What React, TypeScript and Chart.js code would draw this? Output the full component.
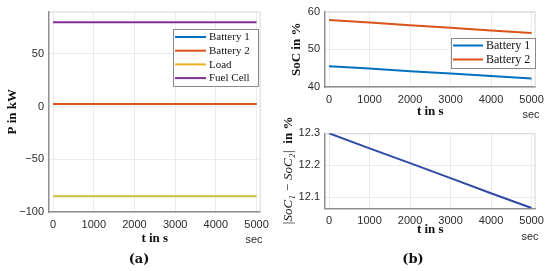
import React, { useEffect, useRef } from "react";
import { Chart, registerables } from "chart.js";

Chart.register(...registerables);

// ---------------- data ----------------
const timeS = [0, 1000, 2000, 3000, 4000, 5000];
const timeTicks = [0, 1000, 2000, 3000, 4000, 5000];

const powerBattery1 = [2.5, 2.5, 2.5, 2.5, 2.5, 2.5];
const powerBattery2 = [2.5, 2.5, 2.5, 2.5, 2.5, 2.5];
const powerLoad = [-85, -85, -85, -85, -85, -85];
const powerFuelCell = [80, 80, 80, 80, 80, 80];
const powerTicks = [-100, -50, 0, 50];

const socBattery1 = [45.5, 44.9, 44.2, 43.6, 42.9, 42.23];
const socBattery2 = [57.8, 57.1, 56.4, 55.7, 55.0, 54.3];
const socTicks = [40, 50, 60];

const socDiff = [12.3, 12.253, 12.207, 12.16, 12.113, 12.067];
const socDiffTicks = [12.1, 12.2, 12.3];

// ---------------- styling ----------------
const SANS = '"Liberation Sans", Arial, Helvetica, sans-serif';
const SERIF = '"Liberation Serif", "Times New Roman", serif';
const GRID = "#ebebeb";
const AXIS = "#8f8f8f";
const TICK = "#2b2b2b";
const BLUE = "#0072BD";
const RED = "#D95319";
const LOAD_LINE = "#c6c134";
const LOAD_LEGEND = "#EDB120";
const PURPLE = "#7E2F8E";
const DIFF_BLUE = "#2f4aa6";

Chart.defaults.font.family = SANS;

const pts = (ys: number[]) => timeS.map((t, i) => ({ x: t, y: ys[i] }));

const fmt = (v: any) => {
  const n = Number(v);
  const s = String(Math.round(Math.abs(n) * 1000) / 1000);
  return n < 0 ? "\u2212" + s : s;
};

const fixedTicks = (vals: number[]) => (scale: any) => {
  scale.ticks = vals.map((v) => ({ value: v }));
};

// ---------------- plugins ----------------
const boxLegend = {
  id: "boxLegend",
  afterDatasetsDraw(chart: any, _args: any, opts: any) {
    if (!opts || !opts.display) return;
    const ctx = chart.ctx;
    const { x, y, w, h, rowH, padTop, lineX0, lineX1, textX, font } = opts;
    ctx.save();
    ctx.fillStyle = "#ffffff";
    ctx.fillRect(x, y, w, h);
    ctx.strokeStyle = "#8a8a8a";
    ctx.lineWidth = 1;
    ctx.strokeRect(x + 0.5, y + 0.5, w, h);
    chart.data.datasets.forEach((ds: any, i: number) => {
      const cy = y + padTop + i * rowH;
      ctx.strokeStyle = ds.legendColor || ds.borderColor;
      ctx.lineWidth = 2;
      ctx.beginPath();
      ctx.moveTo(x + lineX0, cy);
      ctx.lineTo(x + lineX1, cy);
      ctx.stroke();
      ctx.fillStyle = "#111";
      ctx.font = font;
      ctx.textBaseline = "middle";
      ctx.textAlign = "left";
      ctx.fillText(ds.label, x + textX, cy + 0.5);
    });
    ctx.restore();
  },
};

const plotBox = {
  id: "plotBox",
  beforeDatasetsDraw(chart: any) {
    const { ctx, chartArea: a } = chart;
    ctx.save();
    ctx.strokeStyle = "#d6d6d6";
    ctx.lineWidth = 1;
    ctx.beginPath();
    ctx.moveTo(a.left, a.top + 0.5);
    ctx.lineTo(a.right - 0.5, a.top + 0.5);
    ctx.lineTo(a.right - 0.5, a.bottom);
    ctx.stroke();
    ctx.restore();
  },
};

const extraText = {
  id: "extraText",
  afterDraw(chart: any, _args: any, opts: any) {
    const items = (opts && opts.items) || [];
    const ctx = chart.ctx;
    const a = chart.chartArea;
    items.forEach((it: any) => {
      const parts = it.parts || [{ text: it.text, font: it.font }];
      const y = it.yMid ? (a.top + a.bottom) / 2 : it.y;
      ctx.save();
      ctx.translate(it.x, y);
      if (it.rotate) ctx.rotate(it.rotate);
      ctx.fillStyle = it.color || "#111";
      ctx.textBaseline = "middle";
      ctx.textAlign = "left";
      let total = 0;
      const widths = parts.map((p: any) => {
        ctx.font = p.font;
        const w = ctx.measureText(p.text).width;
        total += w;
        return w;
      });
      let cx = -total / 2;
      parts.forEach((p: any, i: number) => {
        ctx.font = p.font;
        ctx.fillText(p.text, cx, 0);
        cx += widths[i];
      });
      ctx.restore();
    });
  },
};

// ---------------- scale builders ----------------
function xScale(axisHeight: number, tickPad: number, titlePadBottom: number) {
  return {
    type: "linear",
    min: -100,
    max: 5100,
    afterBuildTicks: fixedTicks(timeTicks),
    afterFit: (s: any) => {
      s.height = axisHeight;
    },
    grid: { color: GRID, drawTicks: false, lineWidth: 1 },
    border: { color: AXIS, width: 1.5 },
    ticks: {
      padding: tickPad,
      font: { family: SANS, size: 11 },
      color: TICK,
      callback: fmt,
      maxRotation: 0,
      autoSkip: false,
    },
    title: {
      display: true,
      text: "t in s",
      font: { family: SERIF, size: 13, weight: "bold" },
      color: "#111",
      padding: { top: 0, bottom: titlePadBottom },
    },
  };
}

function yScale(min: number, max: number, ticks: number[], width: number, title: string | null, titlePadTop: number) {
  return {
    type: "linear",
    min,
    max,
    afterBuildTicks: fixedTicks(ticks),
    afterFit: (s: any) => {
      s.width = width;
    },
    grid: { color: GRID, drawTicks: false, lineWidth: 1 },
    border: { color: AXIS, width: 1.5 },
    ticks: {
      padding: 5,
      font: { family: SANS, size: 11 },
      color: TICK,
      callback: fmt,
      autoSkip: false,
    },
    title: {
      display: !!title,
      text: title || "",
      font: { family: SERIF, size: 13, weight: "bold" },
      color: "#111",
      padding: { top: titlePadTop, bottom: 0 },
    },
  };
}

const lineDs = (label: string, data: number[], color: string, order: number, extra: any = {}) => ({
  label,
  data: pts(data),
  borderColor: color,
  backgroundColor: color,
  borderWidth: 2,
  pointRadius: 0,
  fill: false,
  tension: 0,
  order,
  ...extra,
});

const baseOptions = (padding: any, scales: any, plugins: any) => ({
  responsive: false,
  animation: false,
  events: [],
  layout: { padding },
  scales,
  plugins: {
    legend: { display: false },
    tooltip: { enabled: false },
    ...plugins,
  },
});

// ---------------- chart configs ----------------
const configPower = () => ({
  type: "line",
  data: {
    datasets: [
      lineDs("Battery 1", powerBattery1, BLUE, 4),
      lineDs("Battery 2", powerBattery2, RED, 3),
      lineDs("Load", powerLoad, LOAD_LINE, 2, { legendColor: LOAD_LEGEND }),
      lineDs("Fuel Cell", powerFuelCell, PURPLE, 1),
    ],
  },
  options: baseOptions(
    { top: 10, right: 13, bottom: 0, left: 0 },
    {
      x: xScale(59, 6, 25),
      y: yScale(-100, 90, powerTicks, 49, "P in kW", 5),
    },
    {
      boxLegend: {
        display: true,
        x: 173,
        y: 29,
        w: 85,
        h: 57,
        padTop: 8,
        rowH: 13.7,
        lineX0: 2,
        lineX1: 33,
        textX: 36,
        font: `11px ${SERIF}`,
      },
      extraText: {
        items: [
          { text: "sec", x: 254, y: 240, font: `11px ${SANS}`, color: TICK },
          { text: "(a)", x: 139, y: 260, font: `bold 13px "DejaVu Serif", serif`, color: "#111" },
        ],
      },
    }
  ),
  plugins: [plotBox, boxLegend, extraText],
});

const configSoc = () => ({
  type: "line",
  data: {
    datasets: [lineDs("Battery 1", socBattery1, BLUE, 2), lineDs("Battery 2", socBattery2, RED, 1)],
  },
  options: baseOptions(
    { top: 10.5, right: 13, bottom: 0, left: 0 },
    {
      x: xScale(38, 6, 6),
      y: yScale(40, 60, socTicks, 50, "SoC in %", 14),
    },
    {
      boxLegend: {
        display: true,
        x: 176,
        y: 38,
        w: 84,
        h: 30,
        padTop: 7.5,
        rowH: 14,
        lineX0: 2,
        lineX1: 32,
        textX: 35,
        font: `12px ${SERIF}`,
      },
      extraText: {
        items: [{ text: "sec", x: 256, y: 115, font: `11px ${SANS}`, color: TICK }],
      },
    }
  ),
  plugins: [plotBox, boxLegend, extraText],
});

const configDiff = () => ({
  type: "line",
  data: {
    datasets: [lineDs("|SoC1 - SoC2|", socDiff, DIFF_BLUE, 1)],
  },
  options: baseOptions(
    { top: 33.3, right: 13, bottom: 0, left: 0 },
    {
      x: xScale(62.7, 6, 34),
      y: yScale(12.066, 12.3, socDiffTicks, 50, null, 0),
    },
    {
      extraText: {
        items: [
          { text: "sec", x: 255, y: 137, font: `11px ${SANS}`, color: TICK },
          { text: "(b)", x: 138, y: 160, font: `bold 13px "DejaVu Serif", serif`, color: "#111" },
          {
            x: 14,
            yMid: true,
            rotate: -Math.PI / 2,
            color: "#111",
            parts: [
              { text: "|SoC\u2081 \u2212 SoC\u2082|", font: `italic 13px ${SERIF}` },
              { text: "  in %", font: `bold 13px ${SERIF}` },
            ],
          },
        ],
      },
    }
  ),
  plugins: [plotBox, extraText],
});

// ---------------- components ----------------
function ChartCanvas(props: { config: () => any; left: number; top: number; width: number; height: number }) {
  const ref = useRef<HTMLCanvasElement | null>(null);
  useEffect(() => {
    if (!ref.current) return;
    const chart = new Chart(ref.current, props.config() as any);
    return () => chart.destroy();
  }, []);
  return (
    <canvas
      ref={ref}
      width={props.width}
      height={props.height}
      style={{ position: "absolute", left: props.left, top: props.top, width: props.width, height: props.height }}
    />
  );
}

export default function App() {
  return (
    <div style={{ position: "absolute", left: 0, top: 0, width: 550, height: 271, background: "#ffffff", overflow: "hidden" }}>
      <ChartCanvas config={configPower} left={0} top={0} width={275} height={271} />
      <ChartCanvas config={configSoc} left={275} top={0} width={275} height={125} />
      <ChartCanvas config={configDiff} left={275} top={100} width={275} height={171} />
    </div>
  );
}
